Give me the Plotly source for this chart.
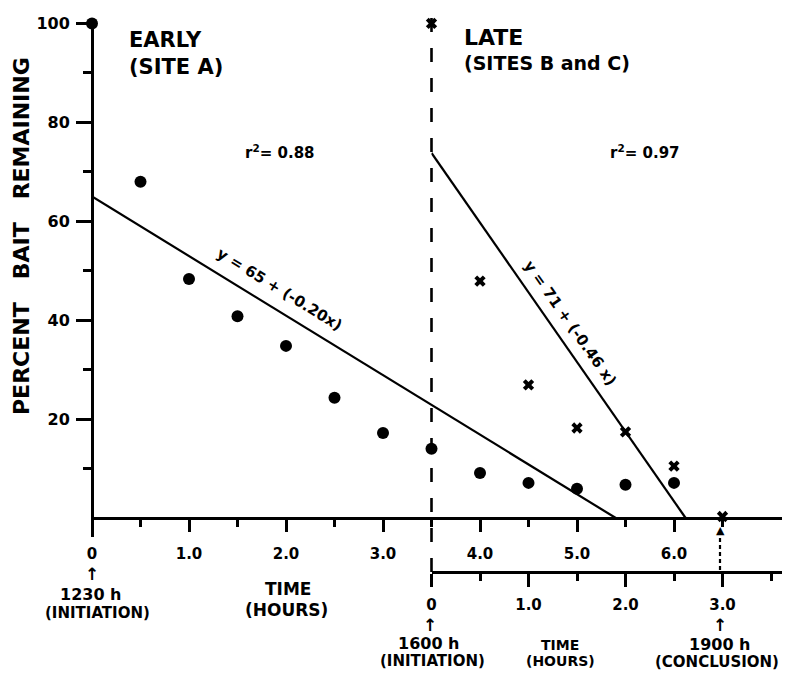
import plotly.graph_objects as go

# ---------------- data ----------------
early_hours = [0, 0.5, 1.0, 1.5, 2.0, 2.5, 3.0, 3.5, 4.0, 4.5, 5.0, 5.5, 6.0]
early_pct = [100, 68, 48.3, 40.8, 34.8, 24.3, 17.2, 14.0, 9.1, 7.1, 5.9, 6.7, 7.1]

late_hours = [0, 0.5, 1.0, 1.5, 2.0, 2.5, 3.0]          # hours after 1600 h
late_pct = [100, 47.9, 26.9, 18.2, 17.4, 10.5, 0.3]

early_fit_hours = [0, 5.40]
early_fit_pct = [65, 0]
late_fit_hours = [0, 2.62]
late_fit_pct = [73.8, 0]

early_ticks = [0, 1, 2, 3, 4, 5, 6]
early_tick_text = ["0", "1.0", "2.0", "3.0", "4.0", "5.0", "6.0"]
early_minor = [0.5, 1.5, 2.5, 3.5, 4.5, 5.5, 6.5]
late_ticks = [0, 1, 2, 3]
late_tick_text = ["0", "1.0", "2.0", "3.0"]
late_minor = [0.5, 1.5, 2.5, 3.5]
y_ticks = [20, 40, 60, 80, 100]
y_minor = [10, 30, 50, 70, 90]
late_start = 3.5   # early-axis hour at which late experiment starts

# ---------------- geometry ----------------
W, H = 786, 679
ML, MR, MT, MB = 92, 4, 20, 107
PW = W - ML - MR
PH = H - MT - MB
PX_PER_H = 97.0
PX_PER_PCT = 4.946
Y0_PX = 518          # pixel row of 0 %
X_MAX = PW / PX_PER_H


def py(p):
    """pixel row -> paper y"""
    return (H - MB - p) / PH


def hx(p):
    """pixel column -> early hours"""
    return (p - ML) / PX_PER_H


def vy(p):
    """pixel row -> percent"""
    return (Y0_PX - p) / PX_PER_PCT


BOLD = dict(family="DejaVu Sans", color="black", weight="bold")


def F(size):
    d = dict(BOLD)
    d["size"] = size
    return d


fig = go.Figure()

fig.add_trace(go.Scatter(x=early_fit_hours, y=early_fit_pct, mode="lines",
                         line=dict(color="black", width=2.2),
                         xaxis="x", yaxis="y", hoverinfo="skip", cliponaxis=False))
fig.add_trace(go.Scatter(x=late_fit_hours, y=late_fit_pct, mode="lines",
                         line=dict(color="black", width=2.2),
                         xaxis="x2", yaxis="y", hoverinfo="skip", cliponaxis=False))
fig.add_trace(go.Scatter(x=early_hours, y=early_pct, mode="markers",
                         marker=dict(size=12, color="black"),
                         xaxis="x", yaxis="y", cliponaxis=False))
fig.add_trace(go.Scatter(x=late_hours, y=late_pct, mode="markers",
                         marker=dict(size=10, color="black", symbol="x",
                                     line=dict(width=0)),
                         xaxis="x2", yaxis="y", cliponaxis=False))

axis_common = dict(showline=True, linewidth=3, linecolor="black",
                   ticks="outside", tickwidth=2.5, tickcolor="black",
                   showgrid=False, zeroline=False)

fig.update_layout(
    width=W, height=H,
    margin=dict(l=ML, r=MR, t=MT, b=MB),
    paper_bgcolor="white", plot_bgcolor="rgba(0,0,0,0)",
    showlegend=False,
    xaxis=dict(domain=[0, 1], range=[0, X_MAX], anchor="free",
               position=py(Y0_PX), tickvals=early_ticks, ticktext=early_tick_text,
               ticklen=12, tickfont=F(15), ticklabelstandoff=9,
               minor=dict(tickvals=early_minor, ticklen=7, tickwidth=2.5,
                          ticks="outside", tickcolor="black", showgrid=False),
               **axis_common),
    xaxis2=dict(domain=[late_start / X_MAX, 1], range=[0, X_MAX - late_start],
                anchor="free", position=0,
                tickvals=late_ticks, ticktext=late_tick_text,
                ticklen=13, tickfont=F(15), ticklabelstandoff=5,
                minor=dict(tickvals=late_minor, ticklen=7, tickwidth=2.5,
                           ticks="outside", tickcolor="black", showgrid=False),
                **axis_common),
    yaxis=dict(domain=[py(537), 1], range=[vy(537), vy(MT)], anchor="free",
               position=0, tickvals=y_ticks, ticklen=15, tickfont=F(16),
               ticklabelstandoff=3,
               minor=dict(tickvals=y_minor, ticklen=8, tickwidth=2.5,
                          ticks="outside", tickcolor="black", showgrid=False),
               **axis_common),
)

# dashed vertical separator
fig.add_shape(type="line", xref="x", yref="paper", x0=late_start, x1=late_start,
              y0=0, y1=py(13), line=dict(color="black", width=2.6, dash="14px,16px"))
# dashed shaft of the conclusion arrow
fig.add_shape(type="line", xref="x", yref="paper", x0=hx(720), x1=hx(720),
              y0=py(570), y1=py(534), line=dict(color="black", width=2.2, dash="4px,3px"))

ann = []


def text(s, px, pyx, size, angle=0, xanchor="center"):
    ann.append(dict(text=s, xref="paper", yref="paper",
                    x=(px - ML) / PW, y=py(pyx), showarrow=False,
                    font=F(size), textangle=angle, xanchor=xanchor, yanchor="middle"))


nb = "\u00a0"
text("PERCENT" + nb * 3 + "BAIT" + nb * 3 + "REMAINING", 22, 236, 22, angle=-90)
text("EARLY", 127, 40, 21, xanchor="left")
text("(SITE A)", 127, 67, 21, xanchor="left")
text("LATE", 462, 37, 22, xanchor="left")
text("(SITES B and C)", 462, 63, 19, xanchor="left")
text("r<sup>2</sup>= 0.88", 280, 152, 15)
text("r<sup>2</sup>= 0.97", 645, 152, 15)
text("y = 65 + (-0.20x)", 279, 289, 15, angle=31.5)
text("y = 71 + (-0.46 x)", 570, 323, 15, angle=55)

text("↑", 92, 574, 17)
text("1230 h", 91, 594, 16)
text("(INITIATION)", 97, 613, 15)
text("TIME", 288, 589, 17)
text("(HOURS)", 286, 610, 17)

text("↑", 430, 625, 17)
text("1600 h", 429, 643, 16)
text("(INITIATION)", 432, 661, 15)
text("TIME", 560, 645, 14)
text("(HOURS)", 560, 661, 14)
text("↑", 720, 625, 17)
text("1900 h", 720, 644, 16)
text("(CONCLUSION)", 717, 662, 15)
text("▲", 720, 530, 11)

fig.update_layout(annotations=ann)

fig.write_html("out.html")
